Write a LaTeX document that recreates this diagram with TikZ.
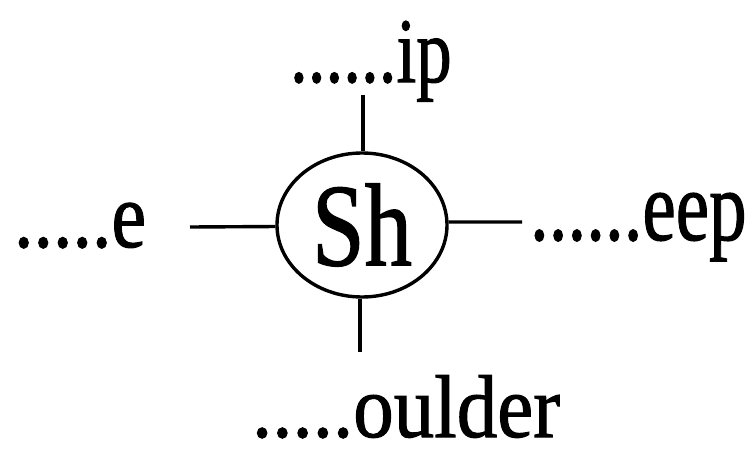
\documentclass[tikz,border=0pt]{standalone}
\usepackage{fontspec}
\setmainfont[FakeBold=1.2,AutoFakeBold=1.2]{Liberation Serif}
\usetikzlibrary{shapes.geometric}
\begin{document}
\begin{tikzpicture}[x=1pt,y=1pt,
  lbl/.style={anchor=base west,inner sep=0pt,outer sep=0pt,font=\bfseries},
  conn/.style={line width=3.4pt},
  bubble/.style={draw,ellipse,line width=3.4pt,minimum width=170pt,minimum height=144pt,inner sep=0pt,font=\bfseries}]
\useasboundingbox (0,0) rectangle (747,-452);
\node[bubble] (sh) at (362,-225) {\raisebox{-2pt}{\scalebox{1.03}[1.28]{\fontsize{92}{92}\selectfont Sh}}};
\node[lbl] (top) at (290,-82) {\scalebox{1}[1.3]{\fontsize{71}{71}\selectfont ......ip}};
\node[lbl] (left) at (14,-247) {\scalebox{1}[1.2]{\fontsize{78}{78}\selectfont .....e}};
\node[lbl] (right) at (530,-240) {\scalebox{1}[1.33]{\fontsize{75}{75}\selectfont ......eep}};
\node[lbl] (bottom) at (252,-437) {\scalebox{1}[1.1]{\fontsize{81}{81}\selectfont .....oulder}};
\coordinate (t) at (363,-95);
\coordinate (b) at (360,-352);
\coordinate (l) at (190,-227);
\coordinate (r) at (522,-222);
\draw[conn] (t) -- (t |- sh.north);
\draw[conn] (b) -- (b |- sh.south);
\draw[conn] (l) -- (sh.181.5);
\draw[conn] (sh.2.4) -- (r);
\end{tikzpicture}
\end{document}
